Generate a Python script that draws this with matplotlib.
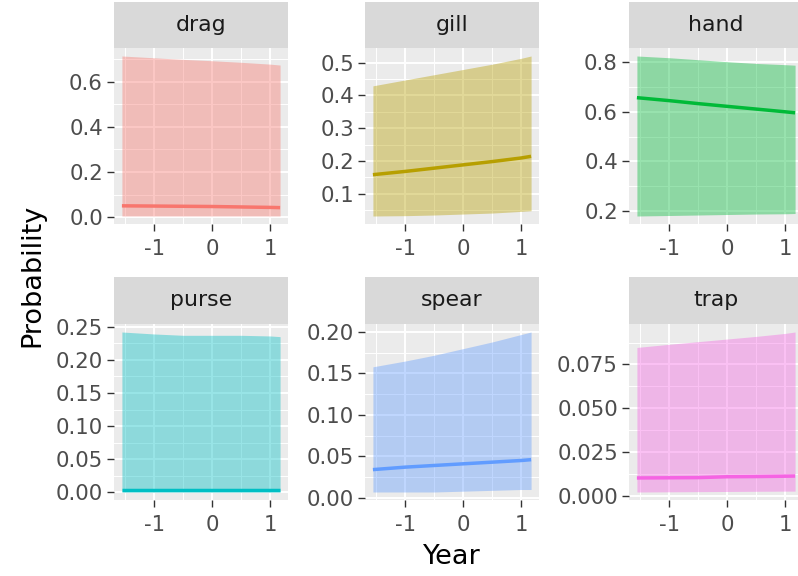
import matplotlib
matplotlib.use("Agg")
import matplotlib.pyplot as plt
import numpy as np
from matplotlib.ticker import FixedLocator, FormatStrFormatter

# standardised year at which predictions were read
year = [-1.56, -1.0, -0.5, 0.0, 0.5, 1.0, 1.17]

gears = ["drag", "gill", "hand", "purse", "spear", "trap"]
colors = ["#F8766D", "#B79F00", "#00BA38", "#00BFC4", "#619CFF", "#F564E3"]

drag_fit = [0.050, 0.049, 0.048, 0.047, 0.045, 0.043, 0.042]
drag_lo = [0.005, 0.005, 0.005, 0.005, 0.005, 0.005, 0.005]
drag_hi = [0.713, 0.705, 0.698, 0.692, 0.685, 0.677, 0.673]

gill_fit = [0.158, 0.168, 0.178, 0.188, 0.198, 0.209, 0.214]
gill_lo = [0.032, 0.033, 0.035, 0.038, 0.041, 0.046, 0.048]
gill_hi = [0.429, 0.447, 0.463, 0.479, 0.495, 0.513, 0.520]

hand_fit = [0.657, 0.645, 0.633, 0.622, 0.611, 0.600, 0.596]
hand_lo = [0.180, 0.182, 0.184, 0.186, 0.188, 0.189, 0.190]
hand_hi = [0.825, 0.818, 0.810, 0.802, 0.795, 0.790, 0.788]

purse_fit = [0.003, 0.003, 0.003, 0.003, 0.003, 0.003, 0.003]
purse_lo = [0.0005, 0.0005, 0.0005, 0.0005, 0.0005, 0.0005, 0.0005]
purse_hi = [0.242, 0.239, 0.237, 0.237, 0.237, 0.236, 0.235]

spear_fit = [0.034, 0.037, 0.039, 0.041, 0.043, 0.045, 0.046]
spear_lo = [0.007, 0.007, 0.007, 0.008, 0.009, 0.010, 0.010]
spear_hi = [0.158, 0.165, 0.172, 0.180, 0.188, 0.197, 0.200]

trap_fit = [0.0103, 0.0104, 0.0105, 0.0110, 0.0111, 0.0113, 0.0114]
trap_lo = [0.0023, 0.0024, 0.0025, 0.0026, 0.0027, 0.0028, 0.0028]
trap_hi = [0.0847, 0.0865, 0.0880, 0.0895, 0.0910, 0.0927, 0.0935]

fits = [drag_fit, gill_fit, hand_fit, purse_fit, spear_fit, trap_fit]
los = [drag_lo, gill_lo, hand_lo, purse_lo, spear_lo, trap_lo]
his = [drag_hi, gill_hi, hand_hi, purse_hi, spear_hi, trap_hi]

# y breaks and number of decimals per facet
y_breaks = [[0.0, 0.2, 0.4, 0.6],
            [0.1, 0.2, 0.3, 0.4, 0.5],
            [0.2, 0.4, 0.6, 0.8],
            [0.0, 0.05, 0.10, 0.15, 0.20, 0.25],
            [0.0, 0.05, 0.10, 0.15, 0.20],
            [0.0, 0.025, 0.050, 0.075]]
y_digits = [1, 1, 1, 2, 2, 3]
x_breaks = [-1, 0, 1]

W, H = 798, 576
fig = plt.figure(figsize=(W / 100, H / 100), dpi=100)


def box(x0, y0, x1, y1):
    return [x0 / W, 1 - y1 / H, (x1 - x0) / W, (y1 - y0) / H]


def expand(lo, hi, f=0.05):
    d = (hi - lo) * f
    return lo - d, hi + d


def minors(breaks, lim):
    step = breaks[1] - breaks[0]
    m = [b - step / 2 for b in breaks] + [breaks[-1] + step / 2]
    return [v for v in m if lim[0] <= v <= lim[1]]


col_x = [114, 365, 629]
panel_w = 174
rows = [(2, 48, 224), (277, 324, 500)]

xlim = expand(min(year), max(year))

for i, g in enumerate(gears):
    r, c = divmod(i, 3)
    x0 = col_x[c]
    s_top, p_top, p_bot = rows[r]

    ax = fig.add_axes(box(x0, p_top, x0 + panel_w, p_bot))
    ax.set_facecolor("#EBEBEB")
    ax.set_axisbelow(True)
    ax.fill_between(year, los[i], his[i], color=colors[i], alpha=0.4, lw=0)
    ax.plot(year, fits[i], color=colors[i], lw=2.5, solid_capstyle="butt")

    ylim = expand(min(los[i]), max(his[i]))
    ax.set_xlim(xlim)
    ax.set_ylim(ylim)
    ax.xaxis.set_major_locator(FixedLocator(x_breaks))
    ax.xaxis.set_minor_locator(FixedLocator(minors(x_breaks, xlim)))
    ax.yaxis.set_major_locator(FixedLocator(y_breaks[i]))
    ax.yaxis.set_minor_locator(FixedLocator(minors(y_breaks[i], ylim)))
    ax.yaxis.set_major_formatter(FormatStrFormatter("%%.%df" % y_digits[i]))
    ax.xaxis.set_major_formatter(FormatStrFormatter("%d"))

    ax.grid(which="major", color="white", lw=1.4)
    ax.grid(which="minor", color="white", lw=0.7)
    for sp in ax.spines.values():
        sp.set_visible(False)
    ax.tick_params(which="major", length=5, width=1.0, color="#333333",
                   labelcolor="#4D4D4D", labelsize=15.3, pad=3)
    ax.tick_params(axis="x", which="major", pad=6)
    ax.tick_params(which="minor", length=0)

    sax = fig.add_axes(box(x0, s_top, x0 + panel_w, p_top))
    sax.set_facecolor("#D9D9D9")
    sax.set_xticks([])
    sax.set_yticks([])
    for sp in sax.spines.values():
        sp.set_visible(False)
    sax.text(0.5, 0.5, g, ha="center", va="center", fontsize=15.8,
             color="#1A1A1A", transform=sax.transAxes)

fig.text(32 / W, 1 - 275 / H, "Probability", rotation=90, ha="center",
         va="center", fontsize=19.5)
fig.text(452 / W, 1 - 557 / H, "Year", ha="center", va="center", fontsize=19.5)

fig.savefig("out.png", dpi=100, facecolor="white")
